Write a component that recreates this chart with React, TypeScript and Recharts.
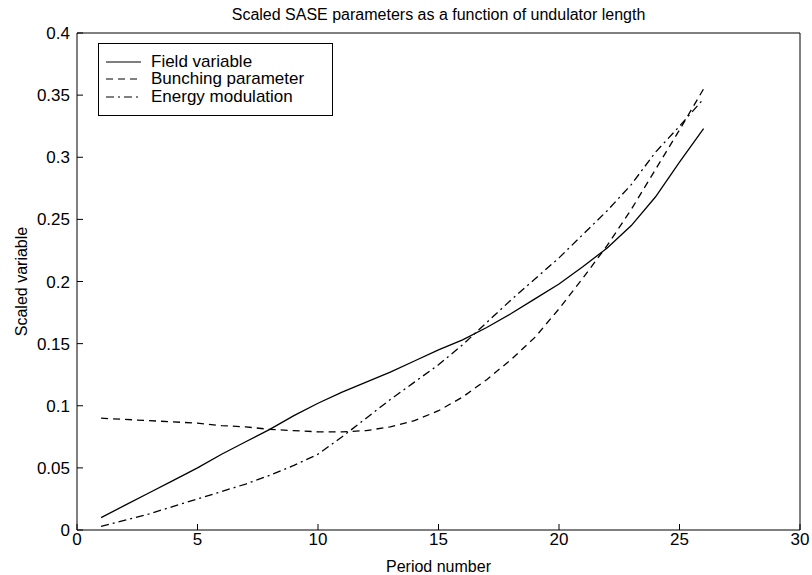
import { LineChart, Line, XAxis, YAxis, Label } from 'recharts';

// period numbers along the undulator
const periods = [1, 2, 3, 4, 5, 6, 7, 8, 9, 10, 11, 12, 13, 14, 15, 16, 17, 18, 19, 20, 21, 22, 23, 24, 25, 26];

const fieldVariable = [
  0.010, 0.020, 0.030, 0.040, 0.050, 0.061, 0.071, 0.081, 0.092, 0.102, 0.111, 0.119, 0.127,
  0.136, 0.145, 0.153, 0.163, 0.174, 0.186, 0.198, 0.212, 0.227, 0.245, 0.268, 0.296, 0.323,
];

const bunchingParameter = [
  0.090, 0.089, 0.088, 0.087, 0.086, 0.084, 0.083, 0.081, 0.080, 0.079, 0.079, 0.080, 0.083,
  0.088, 0.096, 0.107, 0.121, 0.137, 0.155, 0.178, 0.203, 0.229, 0.258, 0.290, 0.322, 0.355,
];

const energyModulation = [
  0.003, 0.008, 0.013, 0.019, 0.025, 0.031, 0.037, 0.044, 0.052, 0.061, 0.075, 0.090, 0.105,
  0.119, 0.133, 0.149, 0.167, 0.185, 0.202, 0.219, 0.238, 0.257, 0.278, 0.304, 0.325, 0.347,
];

const xTicks = [0, 5, 10, 15, 20, 25, 30];
const yTicks = [0, 0.05, 0.1, 0.15, 0.2, 0.25, 0.3, 0.35, 0.4];

const SERIES = [
  { key: 'field', name: 'Field variable', dash: undefined },
  { key: 'bunching', name: 'Bunching parameter', dash: '7 5' },
  { key: 'energy', name: 'Energy modulation', dash: '8 4 2 4' },
];

const FONT = '"Liberation Sans", Arial, Helvetica, sans-serif';

const chartData = periods.map((p, i) => ({
  period: p,
  field: fieldVariable[i],
  bunching: bunchingParameter[i],
  energy: energyModulation[i],
}));

// matlab style legend box in the upper left corner of the axes
function LegendBox() {
  return (
    <div
      style={{
        position: 'absolute',
        left: 98,
        top: 43,
        width: 235,
        height: 73,
        border: '1px solid #000',
        background: '#fff',
        fontFamily: FONT,
        fontSize: 17,
        color: '#000',
        paddingTop: 9,
        boxSizing: 'border-box',
      }}
    >
      {SERIES.map((s) => (
        <div key={s.key} style={{ display: 'flex', alignItems: 'center', height: 17.5, whiteSpace: 'nowrap' }}>
          <svg width={52} height={10} style={{ flex: 'none' }}>
            <line x1={7} y1={5} x2={42} y2={5} stroke="#000" strokeWidth={1.2} strokeDasharray={s.dash} />
          </svg>
          <span>{s.name}</span>
        </div>
      ))}
    </div>
  );
}

export default function App() {
  const tickStyle = { fontSize: 17, fill: '#000', fontFamily: FONT };
  return (
    <div style={{ position: 'absolute', left: 0, top: 0, width: 812, height: 575, background: '#fff' }}>
      <LineChart
        width={812}
        height={575}
        data={chartData}
        margin={{ top: 32, right: 11, bottom: 0, left: 0 }}
      >
        <XAxis
          dataKey="period"
          type="number"
          domain={[0, 30]}
          ticks={xTicks}
          height={45}
          tickSize={-6}
          tickMargin={9}
          tick={tickStyle}
          stroke="#000"
          interval={0}
        >
          <Label
            value="Period number"
            position="insideBottom"
            offset={3}
            style={{ fontSize: 16, fill: '#000', fontFamily: FONT }}
          />
        </XAxis>
        <XAxis
          xAxisId="top"
          dataKey="period"
          orientation="top"
          type="number"
          domain={[0, 30]}
          ticks={xTicks}
          height={1}
          tickSize={-6}
          tick={false}
          stroke="#000"
          interval={0}
        >
          <Label
            value="Scaled SASE parameters as a function of undulator length"
            position="top"
            offset={12}
            style={{ fontSize: 16, fill: '#000', fontFamily: FONT }}
          />
        </XAxis>
        <YAxis
          type="number"
          domain={[0, 0.4]}
          ticks={yTicks}
          width={77}
          tickSize={-6}
          tickMargin={13}
          tick={tickStyle}
          stroke="#000"
          interval={0}
        >
          <Label
            value="Scaled variable"
            angle={-90}
            position="insideLeft"
            offset={21}
            style={{ fontSize: 16, fill: '#000', fontFamily: FONT, textAnchor: 'middle' }}
          />
        </YAxis>
        <YAxis
          yAxisId="right"
          orientation="right"
          type="number"
          domain={[0, 0.4]}
          ticks={yTicks}
          width={1}
          tickSize={-6}
          tick={false}
          stroke="#000"
          interval={0}
        />
        {SERIES.map((s) => (
          <Line
            key={s.key}
            dataKey={s.key}
            name={s.name}
            type="linear"
            stroke="#000"
            strokeWidth={1.3}
            strokeDasharray={s.dash}
            dot={false}
            activeDot={false}
            isAnimationActive={false}
          />
        ))}
        {/* invisible copy so the box axes on top and right get drawn */}
        <Line
          xAxisId="top"
          yAxisId="right"
          dataKey="field"
          stroke="none"
          dot={false}
          activeDot={false}
          legendType="none"
          isAnimationActive={false}
        />
      </LineChart>
      <LegendBox />
    </div>
  );
}
